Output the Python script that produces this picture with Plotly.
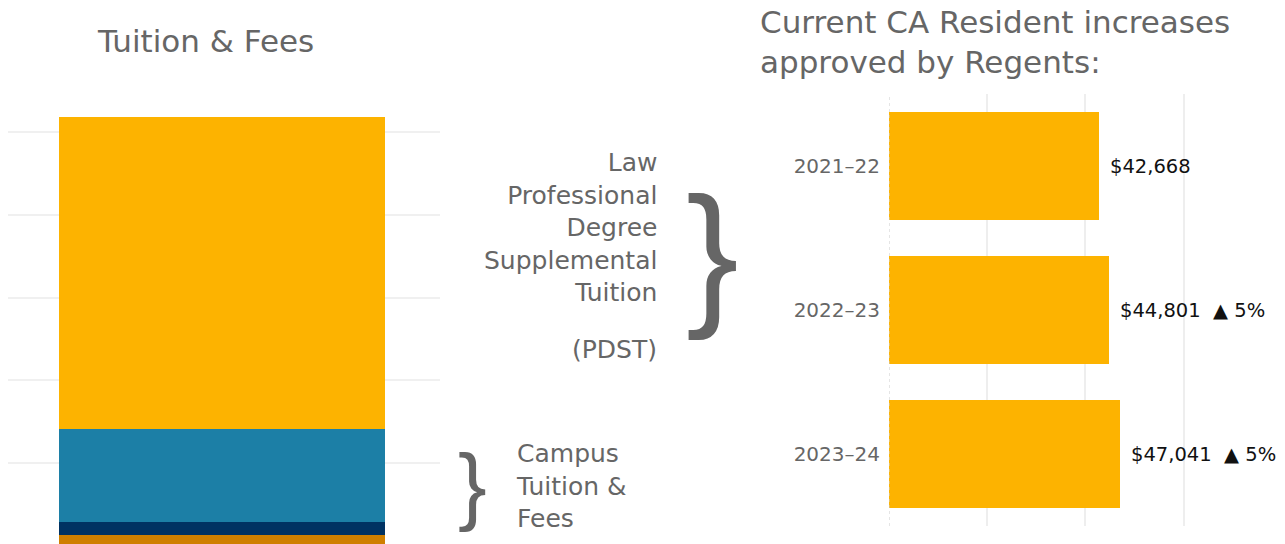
import plotly.graph_objects as go

# page body has an 8px margin, so the figure is placed at (8, 8)
OFF = 8
W, H = 1285 - OFF, 544 - OFF

# ---- Left chart data (stacked, bottom to top) ----
left_category = ["Tuition & Fees"]
left_components = ["Campus fees", "Student Services Fee", "Campus Tuition", "PDST"]
left_values = [1250, 1570, 11260, 37770]
left_colors = ["#CF7F00", "#003262", "#1C7FA6", "#FDB300"]

# ---- Right chart data ----
years = ["2021–22", "2022–23", "2023–24"]
pdst_values = [42668, 44801, 47041]
pct_increase = [None, 5, 5]

GRAY = "#666666"
FONT = "DejaVu Sans"

def px(x):
    return (x - OFF) / W

def py(y):
    return 1 - (y - OFF) / H

fig = go.Figure()

for name, val, col in zip(left_components, left_values, left_colors):
    fig.add_trace(go.Bar(
        x=left_category, y=[val], name=name, marker=dict(color=col, line=dict(width=0)),
        xaxis="x", yaxis="y", showlegend=False, hoverinfo="skip"))

fig.add_trace(go.Bar(
    y=years, x=pdst_values, orientation="h", marker=dict(color="#FDB300", line=dict(width=0)),
    xaxis="x2", yaxis="y2", showlegend=False, hoverinfo="skip"))

annotations = []
# value labels
for yr, v, p in zip(years, pdst_values, pct_increase):
    txt = f"${v:,}" + (f"  ▲ {p}%" if p else "")
    annotations.append(dict(
        x=v, y=yr, xref="x2", yref="y2", xanchor="left", yanchor="middle", xshift=9,
        text=txt, showarrow=False, font=dict(family=FONT, size=19.5, color="#111111")))

# titles
annotations.append(dict(
    x=px(205), y=py(41), xref="paper", yref="paper", xanchor="center", yanchor="middle",
    text="Tuition & Fees", showarrow=False, font=dict(family=FONT, size=31, color=GRAY)))
annotations.append(dict(
    x=px(758), y=py(42), xref="paper", yref="paper", xanchor="left", yanchor="middle",
    align="left", text="Current CA Resident increases<br>approved by Regents:",
    showarrow=False, font=dict(family=FONT, size=31, color=GRAY)))

# PDST description
annotations.append(dict(
    x=px(659), y=py(228), xref="paper", yref="paper", xanchor="right", yanchor="middle",
    align="right", text="Law<br>Professional<br>Degree<br>Supplemental<br>Tuition",
    showarrow=False, font=dict(family=FONT, size=25, color=GRAY)))
annotations.append(dict(
    x=px(659), y=py(349), xref="paper", yref="paper", xanchor="right", yanchor="middle",
    align="right", text="(PDST)", showarrow=False, font=dict(family=FONT, size=25, color=GRAY)))
annotations.append(dict(
    x=px(712), y=py(252), xref="paper", yref="paper", xanchor="center", yanchor="middle",
    text="}", showarrow=False, font=dict(family="Liberation Sans", size=158, color=GRAY)))

# Campus description
annotations.append(dict(
    x=px(473), y=py(484), xref="paper", yref="paper", xanchor="center", yanchor="middle",
    text="}", showarrow=False, font=dict(family="Liberation Sans", size=86, color=GRAY)))
annotations.append(dict(
    x=px(514), y=py(486), xref="paper", yref="paper", xanchor="left", yanchor="middle",
    align="left", text="Campus<br>Tuition &<br>Fees",
    showarrow=False, font=dict(family=FONT, size=25, color=GRAY)))

fig.update_layout(
    width=W, height=H,
    margin=dict(l=0, r=0, t=0, b=0),
    paper_bgcolor="white", plot_bgcolor="white",
    barmode="stack", bargap=0.245,
    showlegend=False,
    xaxis=dict(domain=[0, px(440)], range=[-0.4956, 0.505], showgrid=False,
               showticklabels=False, zeroline=False, showline=False, ticks=""),
    yaxis=dict(domain=[0, py(94)], range=[150, 54650], tick0=0, dtick=10000,
               showgrid=True, gridcolor="#f0f0f0", gridwidth=2, showticklabels=False,
               zeroline=False, showline=True, linecolor="#f0f0f0", linewidth=2, ticks=""),
    xaxis2=dict(domain=[px(889), 1], range=[0, 80650], tick0=0, dtick=20000, anchor="y2",
                showgrid=True, gridcolor="#eeeeee", gridwidth=1.5, showticklabels=False,
                zeroline=False, showline=False, ticks=""),
    yaxis2=dict(domain=[py(526), py(94)], anchor="x2", autorange="reversed",
                showgrid=False, zeroline=False, showline=False, ticks="",
                ticklabelstandoff=8,
                tickfont=dict(family=FONT, size=20, color=GRAY)),
    annotations=annotations,
    shapes=[dict(type="line", xref="x2", yref="y2 domain", x0=0, x1=0, y0=0, y1=1,
                 line=dict(color="#cccccc", width=1, dash="dot"), layer="above")],
)

fig.write_html("out.html")
